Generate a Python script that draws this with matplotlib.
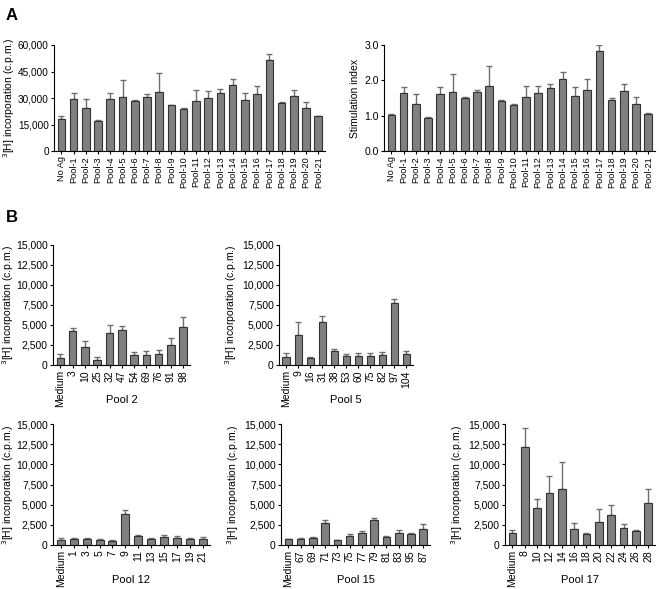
import numpy as np
import matplotlib
matplotlib.use('Agg')
import matplotlib.pyplot as plt
from matplotlib.ticker import StrMethodFormatter
from matplotlib.transforms import blended_transform_factory

plt.rcParams['font.family'] = ['Liberation Sans', 'DejaVu Sans']
plt.rcParams['font.size'] = 8

# panel A
pools_a = ['No Ag'] + ['Pool-%d' % i for i in range(1, 22)]
cpm_a = [18000, 29700, 24600, 17200, 29700, 30800, 28200, 30500, 33500, 25900, 23700,
         28200, 30100, 32600, 37300, 28800, 32000, 51500, 26900, 31400, 24600, 19700]
cpm_a_top = [19700, 33100, 29300, 17300, 33000, 40000, 28700, 32000, 44400, 26000, 24600,
             34300, 33900, 35000, 40700, 32900, 36900, 54700, 27800, 34800, 28000, 20000]
si_a = [1.01, 1.63, 1.33, 0.94, 1.61, 1.67, 1.51, 1.66, 1.83, 1.42, 1.29,
        1.54, 1.64, 1.77, 2.03, 1.55, 1.73, 2.82, 1.45, 1.71, 1.33, 1.06]
si_a_top = [1.06, 1.80, 1.60, 0.95, 1.80, 2.19, 1.54, 1.74, 2.41, 1.43, 1.33,
            1.84, 1.84, 1.89, 2.23, 1.80, 2.03, 3.00, 1.50, 1.89, 1.54, 1.08]

# panel B
pool2_x = ['Medium', '3', '10', '25', '32', '47', '54', '69', '76', '91', '98']
pool2_y = [830, 4250, 2250, 625, 4000, 4400, 1250, 1250, 1400, 2500, 4750]
pool2_top = [1330, 4580, 2960, 960, 4950, 4900, 1600, 1800, 1850, 3400, 6000]

pool5_x = ['Medium', '9', '16', '31', '38', '53', '60', '75', '82', '97', '104']
pool5_y = [1000, 3750, 900, 5400, 1750, 1100, 1100, 1100, 1250, 7800, 1350]
pool5_top = [1450, 5350, 1050, 6100, 1950, 1350, 1450, 1500, 1600, 8250, 1700]

pool12_x = ['Medium', '1', '3', '5', '7', '9', '11', '13', '15', '17', '19', '21']
pool12_y = [600, 700, 750, 600, 450, 3850, 1100, 800, 1050, 850, 700, 800]
pool12_top = [850, 850, 900, 700, 600, 4350, 1250, 900, 1300, 1100, 850, 1000]

pool15_x = ['Medium', '67', '69', '71', '73', '75', '77', '79', '81', '83', '95', '87']
pool15_y = [700, 800, 850, 2750, 600, 1150, 1450, 3050, 1000, 1500, 1350, 1950]
pool15_top = [750, 850, 1050, 3100, 650, 1400, 1700, 3300, 1100, 1800, 1450, 2550]

pool17_x = ['Medium', '8', '10', '12', '14', '16', '18', '20', '22', '24', '26', '28']
pool17_y = [1500, 12100, 4600, 6500, 7000, 2000, 1350, 2800, 3700, 2150, 1750, 5200]
pool17_top = [1800, 14500, 5700, 8500, 10300, 2700, 1450, 4500, 4950, 2650, 1800, 7000]

W, H = 659, 589
fig = plt.figure(figsize=(W / 100, H / 100), dpi=100)


def px_axes(x0, y0, x1, y1):
    return fig.add_axes([x0 / W, 1 - y1 / H, (x1 - x0) / W, (y1 - y0) / H])


def bars(ax, labels, vals, tops, ymax, step, fmt, xsize, ysize):
    x = np.arange(len(labels))
    vals = np.array(vals, dtype=float)
    tops = np.array(tops, dtype=float)
    _, caps, _ = ax.errorbar(x, vals, yerr=[np.zeros_like(vals), tops - vals], fmt='none',
                             ecolor='#6e6e6e', elinewidth=1.0, capsize=2.2, capthick=1.0,
                             zorder=1)
    for c in caps:
        c.set_color('#333333')
    ax.bar(x, vals, width=0.62, color='#808080', edgecolor='#333333', linewidth=0.8, zorder=2)
    ax.set_xticks(x)
    ax.set_xticklabels(labels, rotation=90)
    ax.set_xlim(-0.6, len(labels) - 0.45)
    ax.set_ylim(0, ymax)
    ax.set_yticks(np.arange(0, ymax + step / 2, step))
    ax.yaxis.set_major_formatter(StrMethodFormatter(fmt))
    for s in ['top', 'right']:
        ax.spines[s].set_visible(False)
    for s in ['left', 'bottom']:
        ax.spines[s].set_linewidth(0.8)
    ax.tick_params(axis='both', direction='out', length=2.5, width=0.8, pad=1.2)
    ax.tick_params(axis='x', labelsize=xsize)
    ax.tick_params(axis='y', labelsize=ysize)


def ylabel_at(ax, text, x0, x1, offset):
    # place the rotated label a fixed number of pixels left of the y axis
    ax.set_ylabel(text, fontsize=7.5)
    ax.yaxis.set_label_coords(-offset / (x1 - x0), 0.5)


ylab = '$^{3}$[H] incorporation (c.p.m.)'

ax = px_axes(54, 45, 325, 151)
bars(ax, pools_a, cpm_a, cpm_a_top, 60000, 15000, '{x:,.0f}', 6.6, 7.2)
ylabel_at(ax, ylab, 54, 325, 37)

ax = px_axes(384, 45, 655, 151)
bars(ax, pools_a, si_a, si_a_top, 3.0, 1.0, '{x:.1f}', 6.6, 7.5)
ylabel_at(ax, 'Stimulation index', 384, 655, 24)

panels = [
    (53, 245, 190, 365, pool2_x, pool2_y, pool2_top, 'Pool 2', 400, 37),
    (279, 245, 413, 365, pool5_x, pool5_y, pool5_top, 'Pool 5', 400, 40),
    (53, 424, 210, 545, pool12_x, pool12_y, pool12_top, 'Pool 12', 580, 37),
    (281, 424, 430, 545, pool15_x, pool15_y, pool15_top, 'Pool 15', 580, 40),
    (505, 424, 655, 545, pool17_x, pool17_y, pool17_top, 'Pool 17', 580, 40),
]
for x0, y0, x1, y1, labels, vals, tops, name, ly, off in panels:
    ax = px_axes(x0, y0, x1, y1)
    bars(ax, labels, vals, tops, 15000, 2500, '{x:,.0f}', 7.5, 7.5)
    ylabel_at(ax, ylab, x0, x1, off)
    tr = blended_transform_factory(ax.transAxes, fig.transFigure)
    ax.text(0.5, 1 - ly / H, name, transform=tr, fontsize=8, ha='center', va='center')

fig.text(6 / W, 1 - 16 / H, 'A', fontsize=12, fontweight='bold', va='center')
fig.text(6 / W, 1 - 217 / H, 'B', fontsize=12, fontweight='bold', va='center')

fig.savefig('out.png', dpi=100)
